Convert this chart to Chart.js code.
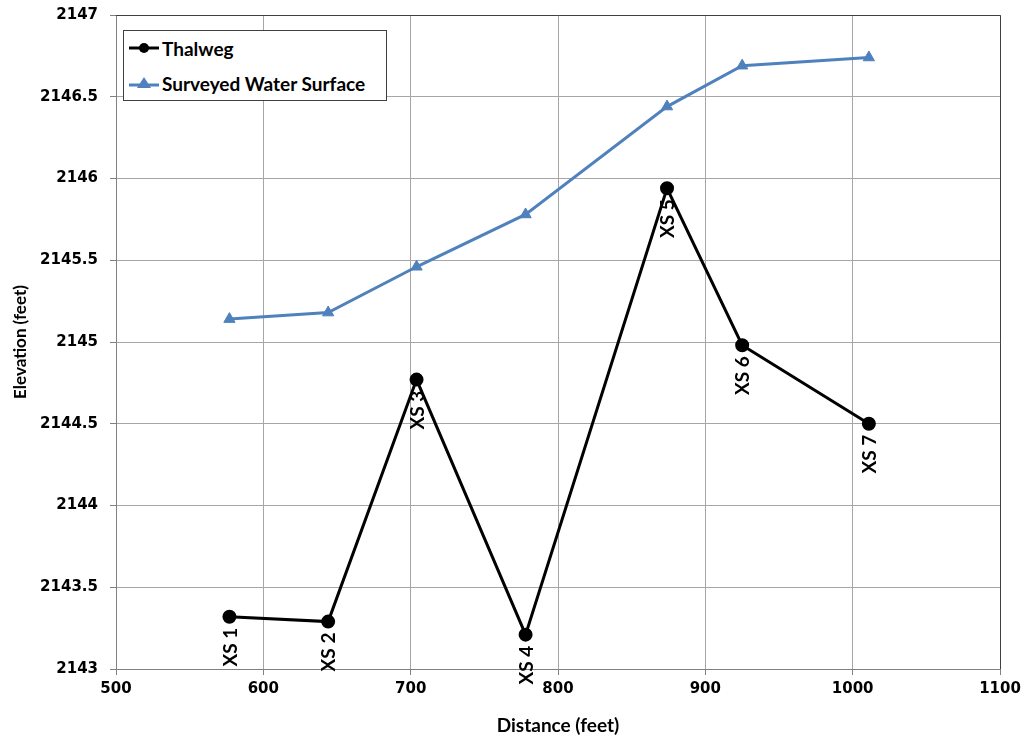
<!DOCTYPE html>
<html>
<head>
<meta charset="utf-8">
<script src="https://cdn.jsdelivr.net/npm/chart.js@4"></script>
<style>
  html, body { margin: 0; padding: 0; background: #fff; }
  #wrap { position: relative; width: 1031px; height: 741px; }
  #legend {
    position: absolute; left: 123px; top: 30px; width: 264px; height: 71px;
    border: 1px solid #404040; background: #fff; box-sizing: border-box;
    font: bold 19px Lato, sans-serif; color: #000;
  }
  #legend .row { position: absolute; left: 4px; height: 24px; display: flex; align-items: center; }
  #legend svg { margin-right: 2px; }
</style>
</head>
<body>
<div id="wrap">
  <canvas id="chart" width="1031" height="741"></canvas>
  <div id="legend">
    <div class="row" style="top:5px">
      <svg width="32" height="14"><line x1="1" y1="7" x2="31" y2="7" stroke="#000" stroke-width="3"/><circle cx="16" cy="7" r="5" fill="#000"/></svg>Thalweg
    </div>
    <div class="row" style="top:40px">
      <svg width="32" height="14"><line x1="1" y1="9" x2="31" y2="9" stroke="#4f81bd" stroke-width="3"/><polygon points="16,1 23,12 9,12" fill="#4f81bd"/></svg>Surveyed Water Surface
    </div>
  </div>
</div>
<script>
const distances = [577, 644, 704, 778, 874, 925, 1011];
const thalweg = [2143.32, 2143.29, 2144.77, 2143.21, 2145.94, 2144.98, 2144.50];
const waterSurface = [2145.14, 2145.18, 2145.46, 2145.78, 2146.44, 2146.69, 2146.74];
const xsLabels = ['XS 1', 'XS 2', 'XS 3', 'XS 4', 'XS 5', 'XS 6', 'XS 7'];

const toPoints = (ys) => distances.map((x, i) => ({ x, y: ys[i] }));

const frame = {
  id: 'frame',
  beforeDatasetsDraw(chart) {
    const { ctx, chartArea: a } = chart;
    ctx.save();
    ctx.strokeStyle = '#404040';
    ctx.lineWidth = 1;
    ctx.beginPath();
    ctx.moveTo(a.left, a.top + 0.5);
    ctx.lineTo(a.right + 0.5, a.top + 0.5);
    ctx.lineTo(a.right + 0.5, a.bottom);
    ctx.stroke();
    ctx.restore();
  },
};

const xsText = {
  id: 'xsText',
  afterDatasetsDraw(chart) {
    const { ctx } = chart;
    const meta = chart.getDatasetMeta(0);
    ctx.save();
    ctx.font = 'bold 19px Lato, sans-serif';
    ctx.fillStyle = '#000';
    ctx.textAlign = 'right';
    ctx.textBaseline = 'middle';
    meta.data.forEach((pt, i) => {
      ctx.save();
      ctx.translate(pt.x + 1, pt.y + 11);
      ctx.rotate(-Math.PI / 2);
      ctx.fillText(xsLabels[i], 0, 0);
      ctx.restore();
    });
    ctx.restore();
  },
};

const tickFont = { family: 'DejaVu Sans, sans-serif', size: 15, weight: 'bold' };
const titleFont = { family: 'Lato, sans-serif', size: 19, weight: 'bold' };

new Chart(document.getElementById('chart'), {
  type: 'scatter',
  data: {
    datasets: [
      {
        label: 'Thalweg',
        data: toPoints(thalweg),
        showLine: true,
        borderColor: '#000',
        backgroundColor: '#000',
        borderWidth: 3,
        pointStyle: 'circle',
        pointRadius: 5.5,
        pointHoverRadius: 5.5,
      },
      {
        label: 'Surveyed Water Surface',
        data: toPoints(waterSurface),
        showLine: true,
        borderColor: '#4f81bd',
        backgroundColor: '#4f81bd',
        borderWidth: 3,
        pointStyle: 'triangle',
        pointRadius: 6.5,
        pointHoverRadius: 6.5,
        pointBorderWidth: 1,
      },
    ],
  },
  options: {
    responsive: false,
    animation: false,
    layout: { padding: { top: 15, right: 31, left: 0, bottom: 0 } },
    plugins: { legend: { display: false }, tooltip: { enabled: false } },
    scales: {
      x: {
        type: 'linear',
        min: 500,
        max: 1100,
        ticks: { stepSize: 100, color: '#000', font: tickFont, padding: 5, callback: (v) => String(v) },
        grid: { color: '#a6a6a6', tickLength: 6, tickColor: '#808080' },
        border: { color: '#808080' },
        title: { display: true, text: 'Distance (feet)', color: '#000', font: titleFont, padding: { top: 4 } },
        afterFit: (s) => { s.height = 72; s.paddingRight = 0; },
      },
      y: {
        min: 2143,
        max: 2147,
        ticks: { stepSize: 0.5, color: '#000', font: tickFont, padding: 12, callback: (v) => String(v) },
        grid: { color: '#a6a6a6', tickLength: 6, tickColor: '#808080' },
        border: { color: '#808080' },
        title: { display: true, text: 'Elevation (feet)', color: '#000', font: { family: 'Lato, sans-serif', size: 17, weight: 'bold' }, padding: { top: 10, bottom: 0 } },
        afterFit: (s) => { s.width = 116; s.paddingTop = 0; s.paddingBottom = 0; },
      },
    },
  },
  plugins: [frame, xsText],
});
</script>
</body>
</html>
